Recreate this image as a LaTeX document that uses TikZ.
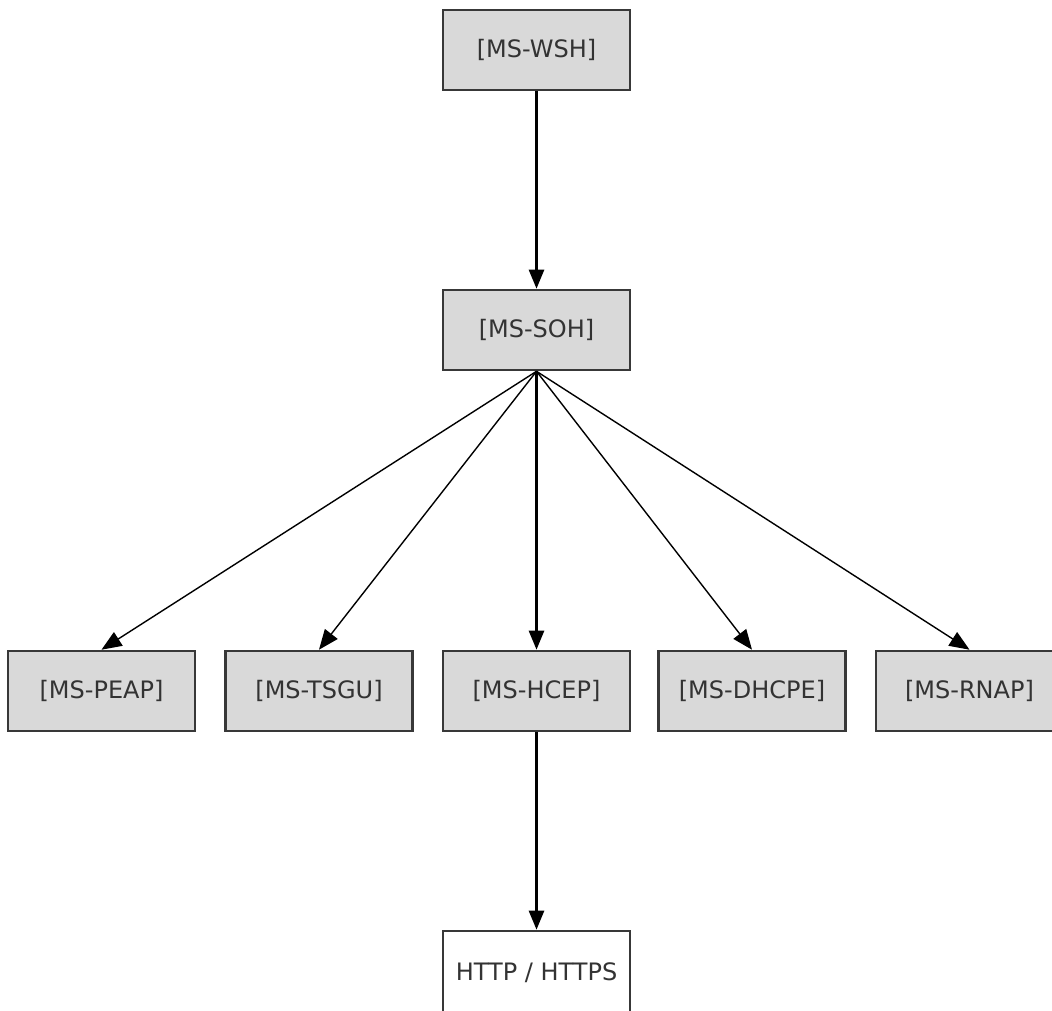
\documentclass[tikz,border=0pt]{standalone}
\usepackage{fontspec}
\setmainfont{DejaVu Sans}
\usetikzlibrary{arrows.meta}
\definecolor{boxfill}{HTML}{D9D9D9}
\definecolor{boxline}{HTML}{383838}
\definecolor{txt}{HTML}{333333}
\begin{document}
\begin{tikzpicture}[x=1pt,y=-1pt,
  pbox/.style={draw=boxline,line width=2.6pt,fill=boxfill,minimum width=187pt,minimum height=80pt,inner sep=0pt,text=txt,font=\fontsize{24}{28}\selectfont},
  wbox/.style={pbox,fill=white},
  thick arr/.style={line width=2.6pt,-{Triangle[length=19pt,width=15pt]}},
  thin arr/.style={line width=1.4pt,-{Triangle[length=20pt,width=16pt]}}
]
\useasboundingbox (0,0) rectangle (1052,1011);
\node[pbox] (wsh) at (536.5,50) {[MS-WSH]};
\node[pbox] (soh) at (536.5,330) {[MS-SOH]};
\node[pbox] (peap) at (101.5,691) {[MS-PEAP]};
\node[pbox] (tsgu) at (319,691) {[MS-TSGU]};
\node[pbox] (hcep) at (536.5,691) {[MS-HCEP]};
\node[pbox] (dhcpe) at (752,691) {[MS-DHCPE]};
\node[pbox] (rnap) at (969.5,691) {[MS-RNAP]};
\node[wbox,minimum height=84pt] (http) at (536.5,973) {HTTP / HTTPS};
\draw[thick arr] (wsh) -- (soh);
\draw[thin arr] (soh.south) -- (peap.north);
\draw[thin arr] (soh.south) -- (tsgu.north);
\draw[thick arr] (soh.south) -- (hcep.north);
\draw[thin arr] (soh.south) -- (dhcpe.north);
\draw[thin arr] (soh.south) -- (rnap.north);
\draw[thick arr] (hcep) -- (http);
\end{tikzpicture}
\end{document}
